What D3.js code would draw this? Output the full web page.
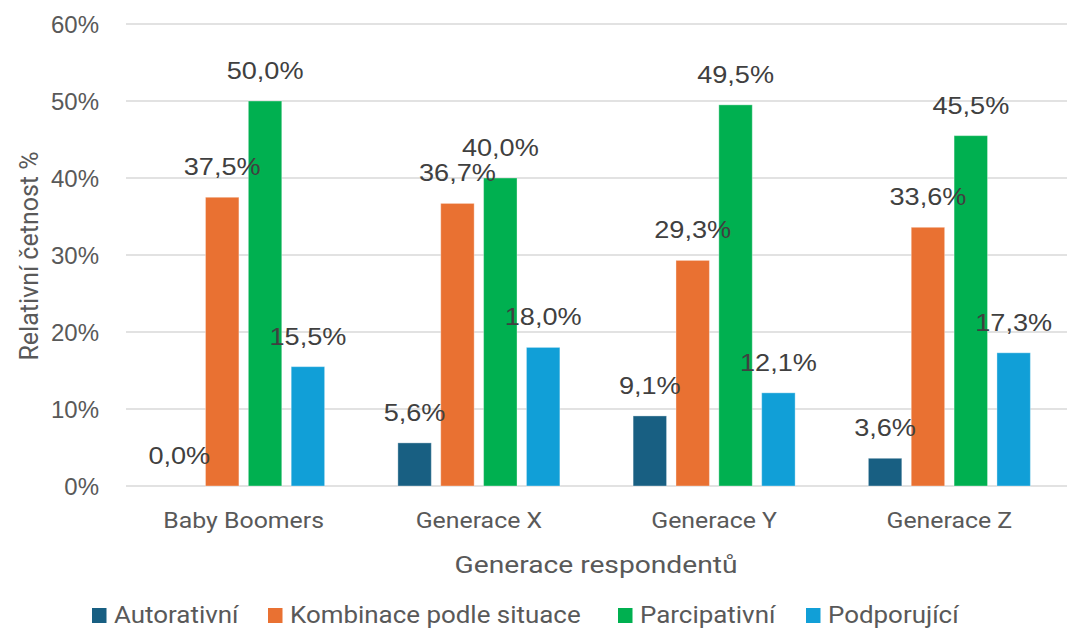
<!DOCTYPE html>
<html>
<head>
<meta charset="utf-8">
<script src="https://cdn.jsdelivr.net/npm/d3@7"></script>
<style>
  html, body { margin: 0; padding: 0; background: #fff; }
  svg { display: block; }
</style>
</head>
<body>
<svg id="chart" width="1068" height="628"></svg>
<script>
// ---- data ----
const categories = ["Baby Boomers", "Generace X", "Generace Y", "Generace Z"];
const seriesNames = ["Autorativní", "Kombinace podle situace", "Parcipativní", "Podporující"];
const autorativni = [0.0, 5.6, 9.1, 3.6];
const kombinace = [37.5, 36.7, 29.3, 33.6];
const parcipativni = [50.0, 40.0, 49.5, 45.5];
const podporujici = [15.5, 18.0, 12.1, 17.3];
const yTicks = [0, 10, 20, 30, 40, 50, 60];
const seriesColors = ["#185f82", "#e97132", "#00b050", "#119fd7"];

const seriesValues = [autorativni, kombinace, parcipativni, podporujici];

const svg = d3.select("#chart");
const plot = { left: 126, right: 1067, top: 24, bottom: 486 };

const x0 = d3.scaleBand().domain(categories).range([plot.left, plot.right]).paddingInner(0).paddingOuter(0);
const groupW = 162;
const x1 = d3.scaleBand().domain(seriesNames).range([0, groupW]).paddingInner(0.22).paddingOuter(0);
const y = d3.scaleLinear().domain([0, 60]).range([plot.bottom, plot.top]);

function txt(g, x, yy, s, opts) {
  return g.append("text")
    .attr("transform", `translate(${x},${yy}) scale(${opts.sx || 1},1)`)
    .attr("font-family", opts.family || "'Liberation Sans', Arial, sans-serif")
    .attr("font-size", opts.size)
    .attr("fill", opts.fill || "#595959")
    .attr("text-anchor", opts.anchor || "middle")
    .text(s);
}

// gridlines
const grid = svg.append("g");
grid.selectAll("line").data(yTicks).join("line")
  .attr("x1", plot.left).attr("x2", plot.right)
  .attr("y1", d => y(d)).attr("y2", d => y(d))
  .attr("stroke", "#d9d9d9").attr("stroke-width", 1.5);

// y tick labels
const yl = svg.append("g");
yTicks.forEach(t => txt(yl, 99, y(t) + 8.5, t + "%", { size: 24, anchor: "end" }));

// bars
const offset = (x0.bandwidth() - groupW) / 2;
const barsG = svg.append("g");
const labelsG = svg.append("g");
categories.forEach((c, ci) => {
  seriesNames.forEach((s, si) => {
    const v = seriesValues[si][ci];
    const bx = x0(c) + offset + x1(s);
    const bw = x1.bandwidth();
    barsG.append("rect")
      .attr("x", bx).attr("width", bw)
      .attr("y", y(v)).attr("height", y(0) - y(v))
      .attr("fill", seriesColors[si])
      .attr("stroke", "#ffffff").attr("stroke-opacity", 0.35).attr("stroke-width", 1);
    txt(labelsG, bx + bw / 2, y(v) - 22, v.toFixed(1).replace(".", ",") + "%", { size: 24, fill: "#404040", sx: 1.13 });
  });
});

// category labels
const xl = svg.append("g");
categories.forEach(c => txt(xl, x0(c) + x0.bandwidth() / 2, 528, c, { size: 22, family: "Roboto, sans-serif", sx: 1.13 }));

// axis titles
txt(svg, 596, 573, "Generace respondentů", { size: 23.5, family: "Roboto, sans-serif", sx: 1.2 });
svg.append("text")
  .attr("transform", `translate(38,256) rotate(-90)`)
  .attr("font-family", "Roboto, sans-serif")
  .attr("font-size", 25)
  .attr("fill", "#595959")
  .attr("text-anchor", "middle")
  .text("Relativní četnost %");

// legend
const legendX = [92, 268, 618, 806];
const lg = svg.append("g");
seriesNames.forEach((s, i) => {
  lg.append("rect").attr("x", legendX[i]).attr("y", 608).attr("width", 14.5).attr("height", 15).attr("fill", seriesColors[i]);
  txt(lg, legendX[i] + 22, 623, s, { size: 24, family: "Roboto, sans-serif", anchor: "start", sx: 1.08 });
});
</script>
</body>
</html>
